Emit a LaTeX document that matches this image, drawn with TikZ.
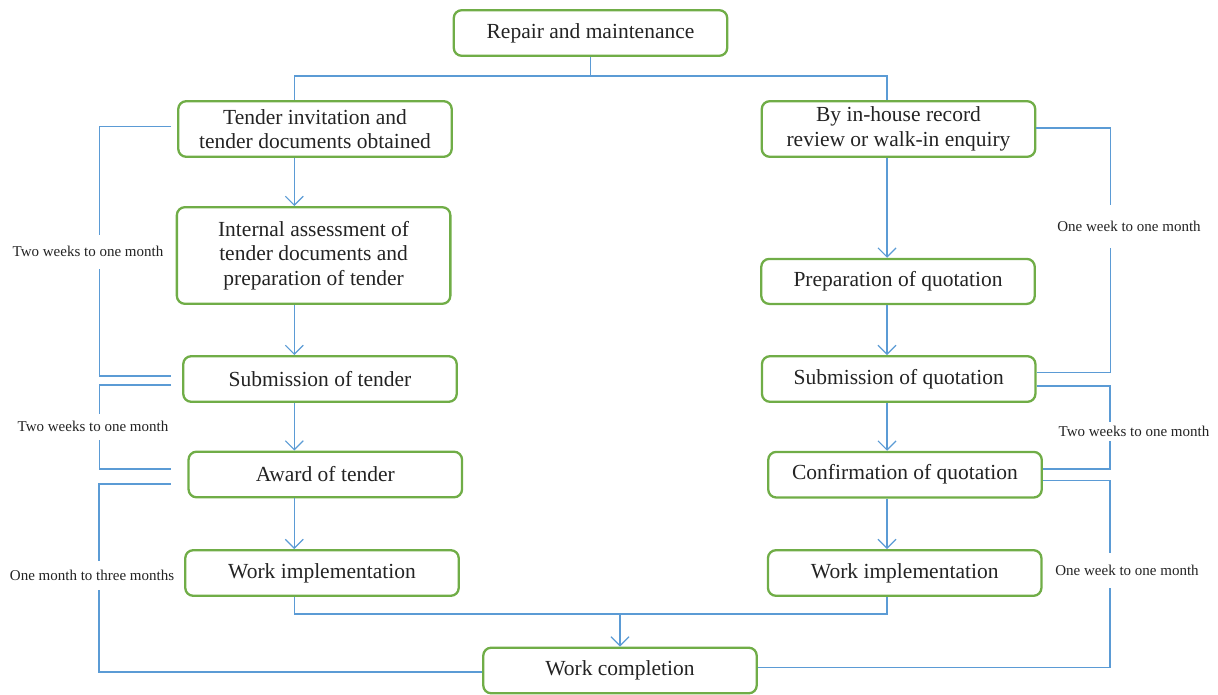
\documentclass[tikz,border=0pt]{standalone}
\usepackage{fontspec}
\setmainfont{Liberation Serif}
\usetikzlibrary{arrows.meta}
\definecolor{boxgreen}{RGB}{112,173,71}
\definecolor{linkblue}{RGB}{91,155,213}
\definecolor{txt}{RGB}{35,35,35}
\begin{document}
\begin{tikzpicture}[x=1pt,y=-1pt,align=center,>={Straight Barb[length=9pt,width=18pt]},
    box/.style={draw=boxgreen,line width=2.3pt,rounded corners=8pt,minimum width=273.5pt,minimum height=45.6pt,text=txt,font=\fontsize{21.5}{24.5}\selectfont},
    lbl/.style={fill=white,inner xsep=1pt,text=txt,font=\fontsize{15}{17}\selectfont},
    link/.style={color=linkblue,line width=1.2pt}]
    \useasboundingbox (0,0) rectangle (1218,695);
	\node[box] (0) at (590.5,33) {Repair and maintenance};
	\node[box,minimum height=55.6pt] (1) at (315,129) {Tender invitation and\\tender documents obtained};
	\node[box,minimum height=55.6pt] (2) at (898.5,129) {By in-house record\\review or walk-in enquiry};
	\node[box,minimum height=96.6pt] (3) at (313.6,255.5) {Internal assessment of\\tender documents and\\preparation of tender};
	\node[box,minimum height=45pt] (4) at (898,281.4) {Preparation of quotation};
	\node[box] (5) at (320,379) {Submission of tender};
	\node[box] (6) at (898.7,379) {Submission of quotation};
	\node[box] (7) at (325.3,474.5) {Award of tender};
	\node[box] (8) at (905,474.7) {Confirmation of quotation};
	\node[box] (9) at (322,573) {Work implementation};
	\node[box] (10) at (904.7,573) {Work implementation};
	\node[box] (11) at (620,670.5) {Work completion};
	\coordinate (L) at (294.3,0);
	\coordinate (R) at (887,0);
	\coordinate (split) at (590.5,76);
	\coordinate (merge) at (620,614);
	\draw[link] (0) -- (split);
	\draw[link] (1.north -| L) |- (split) -| (2.north -| R);
	\draw[link] (9.south -| L) |- (merge) -| (10.south -| R);
    \path[link,->]
        (1.south -| L) edge (3.north -| L)
        (3.south -| L) edge (5.north -| L)
        (5.south -| L) edge (7.north -| L)
        (7.south -| L) edge (9.north -| L)
        (2.south -| R) edge (4.north -| R)
        (4.south -| R) edge (6.north -| R)
        (6.south -| R) edge (8.north -| R)
        (8.south -| R) edge (10.north -| R)
        (merge) edge (11);
	% time brackets
	\draw[link] ([xshift=-6pt,yshift=2.3pt]1.west) -- ++(-72,0) |- ([xshift=-11pt,yshift=3pt]5.west);
	\draw[link] ([xshift=-11pt,yshift=-6pt]5.west) -- ++(-72,0) |- ([xshift=-16.5pt,yshift=5.5pt]7.west);
	\draw[link] ([xshift=-16.5pt,yshift=-9.5pt]7.west) -- ++(-72,0) |- ([yshift=-1.5pt]11.west);
	\draw[link] ([yshift=1pt]2.east) -- ++(74,0) |- ([yshift=6.3pt]6.east);
	\draw[link] ([yshift=-7pt]6.east) -- ++(73.4,0) |- ([yshift=5.7pt]8.east);
	\draw[link] ([yshift=-6pt]8.east) -- ++(67,0) |- ([yshift=3pt]11.east);
	\node[lbl,minimum height=34pt] (12) at (88,251.7) {Two weeks to one month};
	\node[lbl,minimum height=26pt] (13) at (93,426.5) {Two weeks to one month};
	\node[lbl,minimum height=29pt] (14) at (92,575) {One month to three months};
	\node[lbl,minimum height=42pt] (15) at (1129,226.5) {One week to one month};
	\node[lbl,minimum height=19pt] (16) at (1134,431.5) {Two weeks to one month};
	\node[lbl,minimum height=35pt] (17) at (1127,570.5) {One week to one month};
\end{tikzpicture}
\end{document}
